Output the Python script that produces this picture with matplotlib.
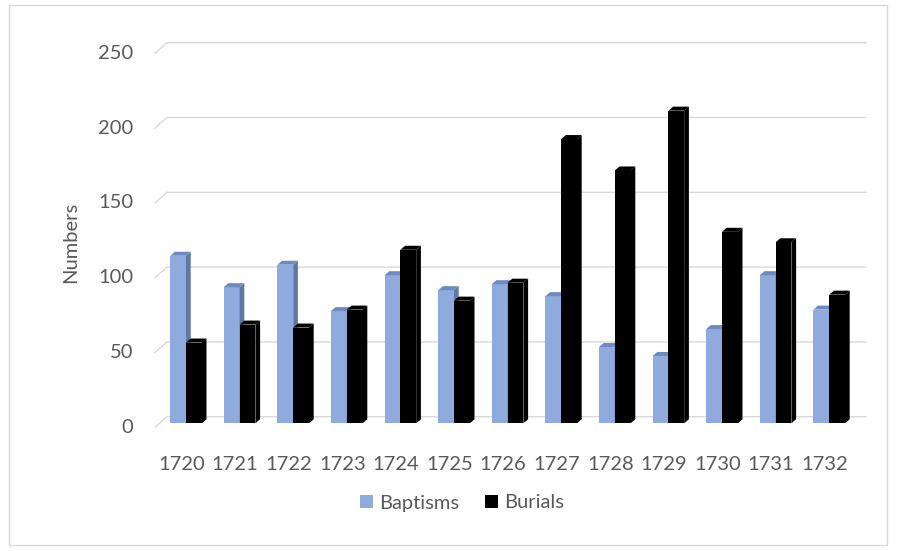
import numpy as np
import matplotlib
matplotlib.use("Agg")
import matplotlib.pyplot as plt
from matplotlib.patches import Polygon, Rectangle, Patch

# data
years = ["1720", "1721", "1722", "1723", "1724", "1725", "1726",
         "1727", "1728", "1729", "1730", "1731", "1732"]
baptisms = [112, 91, 106, 75, 99, 89, 93, 85, 51, 45, 63, 99, 76]
burials = [54, 66, 64, 76, 116, 82, 94, 190, 169, 209, 128, 121, 86]
y_ticks = [0, 50, 100, 150, 200, 250]

BLUE = "#8FAADC"
BLUE_SIDE = "#5E78A6"
BLUE_TOP = "#6F8AC0"
BLACK = "#000000"
GRID = "#D9D9D9"
TEXT = "#595959"
FS = 14.5

W, H = 897, 551
plt.rcParams["font.family"] = ["Lato", "DejaVu Sans"]

fig = plt.figure(figsize=(W / 100, H / 100), dpi=100)

# axes = plane of the bar fronts (pixel bounds measured on the reference)
left_px, right_px, top_px, bot_px = 159.5, 858.5, 49.3, 423.3
cat_px, first_px = 53.6, 186.0
ax = fig.add_axes([left_px / W, 1 - bot_px / H,
                   (right_px - left_px) / W, (bot_px - top_px) / H])
ax.set_xlim((left_px - first_px) / cat_px, (right_px - first_px) / cat_px)
ax.set_ylim(0, 250)
ax.axis("off")

# pixel -> data unit helpers
px_x = 1 / cat_px
px_y = 250 / (bot_px - top_px)

x = np.arange(len(years))
width = 15.8 * px_x
ddx, ddy = 4.7 * px_x, 4.0 * px_y  # bar depth


def bar3d(xc, v, front, side, top, z):
    x0, x1 = xc - width / 2, xc + width / 2
    ax.bar(xc, v, width, color=front, zorder=z, linewidth=0)
    ax.add_patch(Polygon([(x1, 0), (x1 + ddx, ddy), (x1 + ddx, v + ddy), (x1, v)],
                         closed=True, facecolor=side, edgecolor="none", zorder=z))
    ax.add_patch(Polygon([(x0, v), (x1, v), (x1 + ddx, v + ddy), (x0 + ddx, v + ddy)],
                         closed=True, facecolor=top, edgecolor="none", zorder=z))


for i in x:
    bar3d(i - width / 2, baptisms[i], BLUE, BLUE_SIDE, BLUE_TOP, 2)
    bar3d(i + width / 2, burials[i], BLACK, BLACK, BLACK, 3)

# gridlines: back wall + slanted floor edge
xl, xr = ax.get_xlim()
back_dx, back_dy = 7.5 * px_x, 6.6 * px_y
front_dx, front_dy = -4.5 * px_x, -4.0 * px_y
back_right = xr + 7.5 * px_x
for v in y_ticks:
    ax.plot([xl + front_dx, xl + back_dx, back_right],
            [v + front_dy, v + back_dy, v + back_dy],
            color=GRID, lw=1.0, zorder=1, clip_on=False,
            solid_joinstyle="miter")
    ax.text(xl + front_dx - 22 * px_x, v + front_dy, str(v),
            ha="right", va="center", fontsize=FS, color=TEXT)

for i in x:
    ax.text(i + front_dx, -41 * px_y, years[i], ha="center", va="center",
            fontsize=FS, color=TEXT)

fig.text(71 / W, 1 - 242 / H, "Numbers", rotation=90, ha="center",
         va="center", fontsize=FS, color=TEXT)

handles = [Patch(facecolor=BLUE, label="Baptisms"),
           Patch(facecolor=BLACK, label="Burials")]
fig.legend(handles=handles, loc="center", bbox_to_anchor=(462 / W, 1 - 503 / H),
           ncol=2, frameon=False, fontsize=FS, labelcolor=TEXT,
           handlelength=0.65, handleheight=0.65, handletextpad=0.3,
           columnspacing=1.3)

# chart border
fig.patches.append(Rectangle((9 / W, 1 - 545 / H), 878 / W, 540 / H,
                             transform=fig.transFigure, fill=False,
                             edgecolor=GRID, lw=1.0))

fig.savefig("out.png", dpi=100)
